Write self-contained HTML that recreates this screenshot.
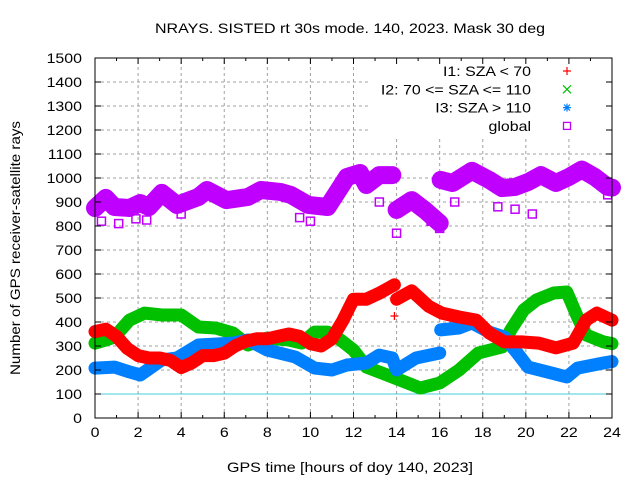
<!DOCTYPE html>
<html><head><meta charset="utf-8">
<style>
html,body{margin:0;padding:0;background:#fff;}
svg{display:block;font-family:"Liberation Sans",sans-serif;}
</style></head>
<body>
<svg id="chart" width="640" height="480" viewBox="0 0 640 480">
<text x="350" y="33" text-anchor="middle" font-size="14" textLength="390" lengthAdjust="spacingAndGlyphs">NRAYS. SISTED rt 30s mode. 140, 2023. Mask 30 deg</text>
<text x="350" y="472" text-anchor="middle" font-size="14" textLength="246" lengthAdjust="spacingAndGlyphs">GPS time [hours of doy 140, 2023]</text>
<text transform="translate(20,248) rotate(-90)" text-anchor="middle" font-size="14" textLength="254" lengthAdjust="spacingAndGlyphs">Number of GPS receiver-satellite rays</text>
<g id="grid"></g>
<g id="series"></g>
<rect x="370" y="59" width="240" height="80" fill="#fff"/>
<g id="axes"></g>
<g id="legend"></g>
</svg>
<script>
const xTicks = [0,2,4,6,8,10,12,14,16,18,20,22,24];
const yTicks = [0,100,200,300,400,500,600,700,800,900,1000,1100,1200,1300,1400,1500];
const seriesNames = ["I1: SZA < 70","I2: 70 <= SZA <= 110","I3: SZA > 110","global"];

const i1Hours = [0,0.5,1,1.5,2,2.5,3,3.5,4,4.5,5,5.5,6,6.5,7,7.5,8,8.5,9,9.5,10,10.5,11,11.5,12,12.6,13.2,13.9,null,14.0,14.7,15.5,16.1,16.9,17.7,18.3,19.0,19.8,20.6,21.4,22.2,22.8,23.3,24];
const i1Values = [360,370,340,290,260,250,250,240,210,230,260,260,270,300,320,330,330,340,350,340,310,300,330,405,495,495,520,555,null,495,530,465,437,421,408,354,317,317,312,292,312,408,437,408];

const i2Hours = [0,0.5,0.9,1.6,2.3,3.1,4.0,4.8,5.6,6.4,7.1,8.0,9.0,9.6,10.2,10.8,11.4,12.0,12.6,13.8,15.1,16.0,16.9,17.8,18.9,19.3,19.9,20.5,21.3,21.9,22.4,22.8,23.6,24];
const i2Values = [312,325,337,408,437,429,429,379,375,354,304,333,325,312,358,358,325,283,212,171,125,146,200,271,296,367,450,492,521,525,421,346,317,310];

const i3Hours = [0,0.9,1.6,2.1,3.1,3.8,4.8,6.4,7.1,8.0,9.3,10.2,11.0,11.7,12.6,13.2,13.8,14.0,14.9,16.0,null,16.05,16.9,17.5,18.3,19.0,19.6,20.1,21.2,21.9,22.4,23.6,24];
const i3Values = [208,212,192,179,242,250,304,312,325,283,254,208,200,221,229,262,250,200,250,271,null,367,375,396,358,337,271,212,187,171,208,229,235];

const globalHours = [0,0.5,0.9,1.6,2.1,2.5,3.1,3.8,4.8,5.2,6.1,7.1,7.7,8.6,9.1,9.9,10.8,11.1,11.7,12.3,12.6,13.2,13.8,null,14.0,14.7,15.3,16.0,null,16.05,16.6,17.5,18.3,18.9,19.5,20.1,20.7,21.4,22.0,22.6,23.2,23.8,24];
const globalValues = [875,917,879,875,896,879,938,888,921,950,908,921,950,942,929,888,879,921,1004,1021,971,1012,1012,null,867,908,867,812,null,992,979,1030,992,958,963,983,1012,979,1004,1035,1004,963,960];

const globalOutlierHours = [0.3,1.1,1.9,2.4,4.0,9.5,10.0,13.2,14.0,15.6,16.0,16.7,18.7,19.5,20.3,23.8];
const globalOutlierValues = [820,810,830,825,850,835,820,900,770,820,790,900,880,870,850,930];
const i1OutlierHours = [13.9];
const i1OutlierValues = [425];

const X0=95, X1=612, Y0=418, Y1=58;
const SX=1.18;
const xs = h => X0 + h*(X1-X0)/24;
const ys = v => Y0 - v*(Y0-Y1)/1500;
const NS="http://www.w3.org/2000/svg";
function el(tag, attrs, parent){const e=document.createElementNS(NS,tag);for(const k in attrs)e.setAttribute(k,attrs[k]);parent.appendChild(e);return e;}
function stretchedText(x,y,anchor,str,parent){
  const t=el('text',{x:0,y:0,'text-anchor':anchor,'font-size':'13.5',transform:`translate(${x},${y}) scale(${SX},1)`},parent);
  t.textContent=str;
  return t;
}

const grid=document.getElementById('grid'), axes=document.getElementById('axes'), ser=document.getElementById('series'), leg=document.getElementById('legend');

yTicks.forEach(v=>{
  if(v>0 && v<1500){
    const g=el('line',{x1:X0,x2:X1,y1:ys(v),y2:ys(v),stroke:'#a0a0a0','stroke-dasharray':'3,3','stroke-width':1},grid);
    
    
  }
  const t=el('line',{x1:X0,x2:X0+6,y1:ys(v),y2:ys(v),stroke:'#000'},axes);
  
  
  const t2=el('line',{x1:X1,x2:X1-6,y1:ys(v),y2:ys(v),stroke:'#000'},axes);
  
  
  const l=stretchedText(82,ys(v)+5,'end',v,axes);
  
  
});
xTicks.forEach(h=>{
  if(h>0 && h<24){
    const g=el('line',{x1:xs(h),x2:xs(h),y1:Y0,y2:Y1,stroke:'#a0a0a0','stroke-dasharray':'3,3','stroke-width':1},grid);
    
    
  }
  const l=stretchedText(xs(h),Y0+19,'middle',h,axes);
  
  
});
for(let h=0;h<=24;h++){
  const len = h%2===0?6:3;
  const t=el('line',{x1:xs(h),x2:xs(h),y1:Y0,y2:Y0-len,stroke:'#000'},axes);
  
  
  const t2=el('line',{x1:xs(h),x2:xs(h),y1:Y1,y2:Y1+len,stroke:'#000'},axes);
  
  
}
const cy=el('line',{x1:X0,x2:X1,y1:ys(100),y2:ys(100),stroke:'#40d0d8','stroke-width':1},grid);


const fr=el('rect',{x:X0,y:Y1,width:X1-X0,height:Y0-Y1,fill:'none',stroke:'#000','stroke-width':1},axes);



function drawBand(hours, values, color, name, width){
  let segs=[], cur=[];
  hours.forEach((h,i)=>{ if(h===null||values[i]===null){ if(cur.length)segs.push(cur); cur=[]; } else cur.push(xs(h).toFixed(1)+','+ys(values[i]).toFixed(1)); });
  if(cur.length)segs.push(cur);
  segs.forEach(s=>{
    const p=el('polyline',{points:s.join(' '),fill:'none',stroke:color,'stroke-width':width,'stroke-linejoin':'round','stroke-linecap':'round'},ser);
    
    
  });
}
function marker(h,v,color,kind,name){
  const x=xs(h), y=ys(v);
  let m;
  if(kind==='square') m=el('rect',{x:x-4,y:y-4,width:8,height:8,fill:'none',stroke:color,'stroke-width':1.5},ser);
  else if(kind==='plus') m=el('path',{d:`M${x-4} ${y}H${x+4}M${x} ${y-4}V${y+4}`,stroke:color,'stroke-width':1.3},ser);
  else if(kind==='x') m=el('path',{d:`M${x-4} ${y-4}L${x+4} ${y+4}M${x-4} ${y+4}L${x+4} ${y-4}`,stroke:color,'stroke-width':1.3},ser);
  else m=el('path',{d:`M${x-4} ${y}H${x+4}M${x} ${y-4}V${y+4}M${x-3} ${y-3}L${x+3} ${y+3}M${x-3} ${y+3}L${x+3} ${y-3}`,stroke:color,'stroke-width':1.3},ser);
  
  
}
const colors=['#ff0000','#00c000','#0080ff','#c000ff'];
drawBand(globalHours,globalValues,colors[3],'global',18);
drawBand(i2Hours,i2Values,colors[1],'i2',13);
drawBand(i3Hours,i3Values,colors[2],'i3',13);
drawBand(i1Hours,i1Values,colors[0],'i1',13);
globalOutlierHours.forEach((h,i)=>marker(h,globalOutlierValues[i],colors[3],'square','global-outlier'));
i1OutlierHours.forEach((h,i)=>marker(h,i1OutlierValues[i],colors[0],'plus','i1-outlier'));

const kinds=['plus','x','star','square'];
seriesNames.forEach((n,i)=>{
  const y=71+i*18.3;
  const t=stretchedText(531,y+5,'end',n,leg);
  
  
  const x=567, c=colors[i];
  let m;
  if(kinds[i]==='square') m=el('rect',{x:x-3.5,y:y-3.5,width:7,height:7,fill:'none',stroke:c,'stroke-width':1.3},leg);
  else if(kinds[i]==='plus') m=el('path',{d:`M${x-4} ${y}H${x+4}M${x} ${y-4}V${y+4}`,stroke:c,'stroke-width':1.2},leg);
  else if(kinds[i]==='x') m=el('path',{d:`M${x-4} ${y-4}L${x+4} ${y+4}M${x-4} ${y+4}L${x+4} ${y-4}`,stroke:c,'stroke-width':1.2},leg);
  else m=el('path',{d:`M${x-4} ${y}H${x+4}M${x} ${y-4}V${y+4}M${x-3} ${y-3}L${x+3} ${y+3}M${x-3} ${y+3}L${x+3} ${y-3}`,stroke:c,'stroke-width':1.2},leg);
  
  
});
</script>
</body></html>
